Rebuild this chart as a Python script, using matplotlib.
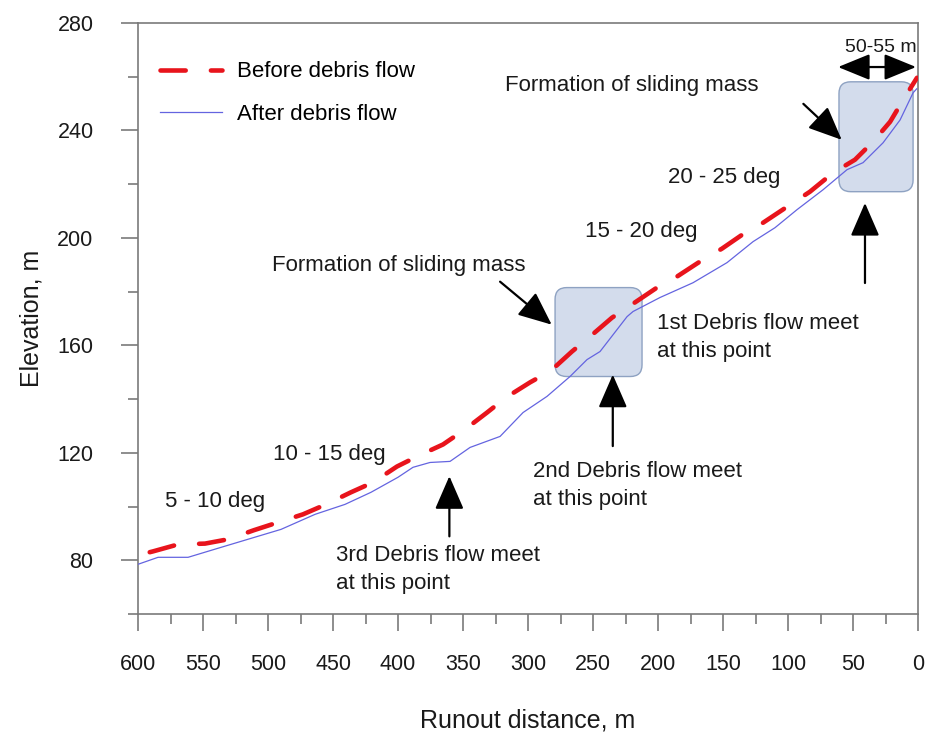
import matplotlib
matplotlib.use('Agg')
import matplotlib.pyplot as plt
from matplotlib.patches import FancyBboxPatch
from matplotlib.ticker import MultipleLocator

plt.rcParams['font.family'] = ['Liberation Sans', 'DejaVu Sans']

# profile before the debris flow (runout distance, elevation)
before_x = [591, 588.5, 569.2, 548.5, 530.8, 510.8, 492.3, 473.1, 455.4, 436.2, 419.2,
            400.8, 383.8, 365.4, 348.5, 331.5, 316.9, 298.5, 282.3, 266.2, 251.5,
            235.4, 219.2, 200.8, 185.4, 167.7, 150.8, 133.1, 121.5, 98.5, 83.1,
            65.4, 48.5, 34.6, 21.5, 10.0, 0.8]
before_y = [83.0, 83.3, 85.9, 86.2, 87.8, 91.2, 94.1, 97.1, 100.8, 105.3, 109.0,
            114.9, 119.0, 123.1, 128.7, 135.0, 140.6, 146.2, 150.6, 157.7, 163.6,
            170.3, 175.5, 181.5, 185.6, 191.2, 196.0, 201.9, 204.9, 212.3, 217.2,
            224.2, 229.1, 235.8, 243.2, 252.5, 259.6]

# profile after the debris flow
after_x = [600, 584.6, 561.5, 536.2, 510.0, 490.0, 463.8, 440.8, 420.8, 400.0, 388.5,
           375.4, 360.0, 344.6, 321.5, 303.8, 285.4, 267.7, 254.6, 244.6, 223.8,
           219.2, 198.5, 173.1, 146.9, 126.9, 110.0, 93.1, 73.1, 54.6, 42.3,
           26.9, 13.8, 3.8, 1.0]
after_y = [78.5, 81.1, 81.1, 84.8, 88.6, 91.5, 97.1, 100.8, 105.3, 110.9, 114.6,
           116.4, 116.8, 122.0, 126.1, 135.0, 141.0, 148.4, 154.7, 157.7, 170.7,
           172.6, 177.8, 183.3, 190.8, 198.6, 203.8, 210.5, 217.9, 225.4, 228.0,
           235.4, 243.9, 254.0, 255.5]

slope_labels = ['5 - 10 deg', '10 - 15 deg', '15 - 20 deg', '20 - 25 deg']
slope_pos = [(579, 102), (496, 119.4), (256, 202.3), (192, 222.4)]

fig = plt.figure(figsize=(9.32, 7.34), dpi=100)
ax = fig.add_axes([0.1481, 0.1635, 0.8369, 0.8052])

# sliding mass boxes
for (x0, x1, y0, y1) in [(279.2, 212.3, 148.4, 181.5), (60.8, 3.8, 217.2, 258.1)]:
    box = FancyBboxPatch((x1, y0), x0 - x1, y1 - y0,
                         boxstyle='round,pad=0,rounding_size=9',
                         mutation_aspect=0.483,
                         facecolor='#d3dcec', edgecolor='#8ea2c2', lw=1, zorder=1)
    ax.add_patch(box)

ax.plot(after_x, after_y, color='#6464e0', lw=0.9, label='After debris flow', zorder=3)
ax.plot(before_x, before_y, color='#e8141c', lw=3.3, dashes=(5.5, 5.5),
        dash_capstyle='round', label='Before debris flow', zorder=4)

ax.set_xlim(600, 0)
ax.set_ylim(60, 280)
ax.xaxis.set_major_locator(MultipleLocator(50))
ax.xaxis.set_minor_locator(MultipleLocator(25))
ax.yaxis.set_minor_locator(MultipleLocator(20))
ax.set_yticks([80, 120, 160, 200, 240, 280])

for s in ax.spines.values():
    s.set_color('#7a7a7a')
    s.set_linewidth(1.2)
ax.tick_params(which='major', direction='out', length=12, width=1.2, color='#7a7a7a',
               labelsize=15.5, labelcolor='#1a1a1a')
ax.tick_params(which='minor', direction='out', length=7.5, width=1.2, color='#7a7a7a')
ax.tick_params(axis='y', which='major', pad=20)
ax.tick_params(axis='x', which='major', pad=17)

ax.set_xlabel('Runout distance, m', fontsize=18, color='#1a1a1a', labelpad=24)
ax.set_ylabel('Elevation, m', fontsize=18, color='#1a1a1a', labelpad=10)

h, l = ax.get_legend_handles_labels()
ax.legend(h[::-1], l[::-1], loc='upper left', bbox_to_anchor=(0.028, 0.935),
          frameon=False, fontsize=16, borderpad=0, borderaxespad=0,
          handlelength=2.8, handletextpad=0.65, labelspacing=0.95)

txt = dict(fontsize=16, color='#1a1a1a', va='center', ha='left')
for s, (x, y) in zip(slope_labels, slope_pos):
    ax.text(x, y, s, **txt)
ax.text(497, 189.7, 'Formation of sliding mass', **txt)
ax.text(317.7, 256.8, 'Formation of sliding mass', **txt)
ax.text(200.8, 162.9, '1st Debris flow meet\nat this point', linespacing=1.45, **txt)
ax.text(296.2, 107.9, '2nd Debris flow meet\nat this point', linespacing=1.45, **txt)
ax.text(447.7, 76.7, '3rd Debris flow meet\nat this point', linespacing=1.45, **txt)
ax.text(29, 271, '50-55 m', fontsize=14, color='#1a1a1a', ha='center', va='center')

arrow = dict(arrowstyle='-|>,head_length=1.15,head_width=0.5', mutation_scale=18,
             lw=1.6, color='k', shrinkA=0, shrinkB=0)
for tail, tip in [((321.5, 183.7), (281.8, 167.7)),
                  ((88.2, 249.9), (58.7, 236.5)),
                  ((360.5, 88.9), (360.5, 111.3)),
                  ((234.8, 122.5), (234.8, 149.1)),
                  ((40.8, 183.2), (40.8, 213.0))]:
    ax.annotate('', xy=tip, xytext=tail, arrowprops=arrow, zorder=5)
ax.annotate('', xy=(1.5, 263.6), xytext=(61.5, 263.6),
            arrowprops=dict(arrowstyle='<|-|>,head_length=1.1,head_width=0.45',
                            mutation_scale=18, lw=1.6, color='k',
                            shrinkA=0, shrinkB=0), zorder=5)

fig.savefig('out.png', dpi=100)
